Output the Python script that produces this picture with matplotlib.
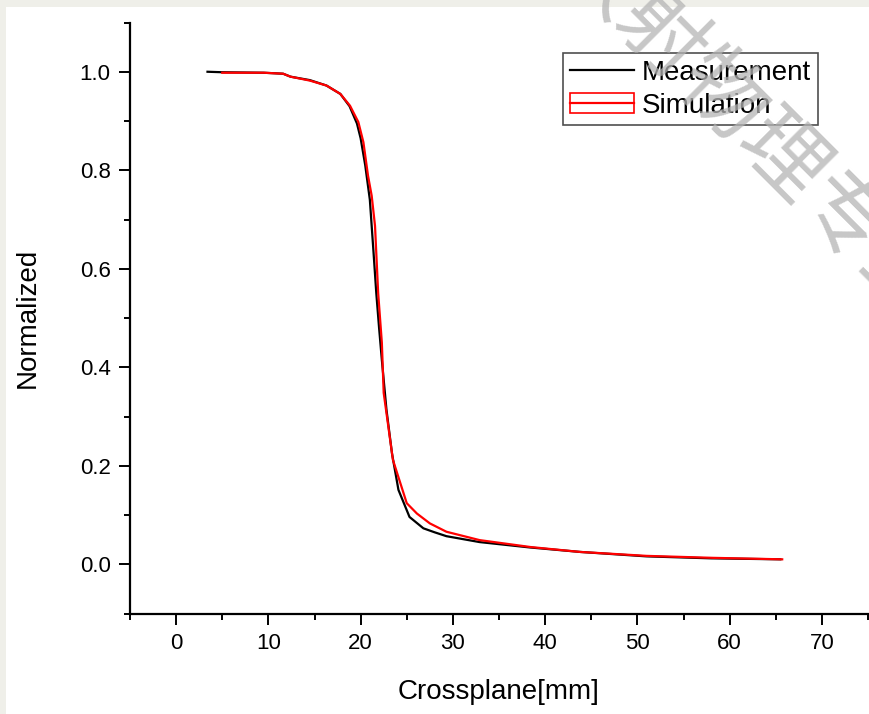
import numpy as np
import matplotlib
matplotlib.use("Agg")
import matplotlib.pyplot as plt
import matplotlib.patches as mpatches
import matplotlib.lines as mlines
from matplotlib.ticker import MultipleLocator

# values
meas_x = [3.4, 5.0, 9.5, 11.6, 12.4, 14.5, 16.3, 17.8, 18.8, 19.6, 20.0, 20.5, 21.0,
          21.4, 21.7, 22.0, 22.3, 22.8, 23.4, 24.1, 25.3, 26.8, 28.0, 29.3, 32.9,
          38.4, 43.8, 51.0, 58.0, 65.5]
meas_y = [1.0, 0.999, 0.998, 0.996, 0.99, 0.983, 0.972, 0.955, 0.93, 0.895, 0.865,
          0.81, 0.74, 0.633, 0.55, 0.48, 0.415, 0.314, 0.225, 0.151, 0.096, 0.073,
          0.065, 0.057, 0.045, 0.034, 0.025, 0.016, 0.012, 0.010]

sim_x = [5.0, 9.5, 11.6, 12.4, 14.5, 16.3, 17.8, 18.85, 19.75, 20.3, 20.8, 21.2,
         21.56, 21.9, 22.3, 22.5, 23.0, 23.5, 24.3, 25.0, 26.1, 27.5, 29.3, 32.9,
         38.4, 43.8, 51.0, 58.2, 65.7]
sim_y = [0.998, 0.998, 0.996, 0.99, 0.982, 0.972, 0.955, 0.931, 0.898, 0.857, 0.789,
         0.748, 0.687, 0.551, 0.45, 0.348, 0.28, 0.212, 0.165, 0.124, 0.103, 0.083,
         0.066, 0.049, 0.035, 0.025, 0.017, 0.013, 0.010]

labels = ["Measurement", "Simulation"]
watermark = "放射物理专业"

plt.rcParams['font.family'] = ['Liberation Sans', 'DejaVu Sans']

W, H = 869, 714
fig = plt.figure(figsize=(W / 100, H / 100), dpi=100)
fig.patch.set_facecolor('#efefe9')
fig.patches.append(mpatches.Rectangle((6 / W, 0), 1, 1 - 7 / H, transform=fig.transFigure,
                                      facecolor='white', edgecolor='none', zorder=-5))

ax = fig.add_axes([130 / W, 1 - 613.5 / H, 738 / W, 591 / H])
ax.set_facecolor('none')
ax.set_zorder(2)

ax.plot(meas_x, meas_y, color='black', lw=1.6, zorder=3)
ax.plot(sim_x, sim_y, color='red', lw=1.6, zorder=4)

ax.set_xlim(-5, 75)
ax.set_ylim(-0.1, 1.1)
ax.xaxis.set_major_locator(MultipleLocator(10))
ax.xaxis.set_minor_locator(MultipleLocator(5))
ax.yaxis.set_major_locator(MultipleLocator(0.2))
ax.yaxis.set_minor_locator(MultipleLocator(0.1))
ax.yaxis.set_major_formatter(matplotlib.ticker.FormatStrFormatter('%.1f'))

for s in ['top', 'right']:
    ax.spines[s].set_visible(False)
for s in ['left', 'bottom']:
    ax.spines[s].set_linewidth(1.6)

ax.tick_params(which='major', direction='out', length=8, width=1.4, labelsize=16, pad=6)
ax.tick_params(which='minor', direction='out', length=4, width=1.4)

ax.set_xlabel("Crossplane[mm]", fontsize=20, labelpad=18)
ax.set_ylabel("Normalized", fontsize=20, labelpad=28)

h1 = mlines.Line2D([], [], color='black', lw=1.6)
h2 = (mpatches.Rectangle((0, 0), 1, 1, facecolor='none', edgecolor='red', lw=1.2),
      mlines.Line2D([], [], color='red', lw=1.6))
leg = ax.legend([h1, h2], labels, loc='upper left',
                bbox_to_anchor=(563 / W, 1 - 53 / H), bbox_transform=fig.transFigure,
                fontsize=20, frameon=True, fancybox=False, borderaxespad=0,
                borderpad=0.24, labelspacing=0.25, handlelength=2.3, handletextpad=0.3)
leg.get_frame().set_edgecolor('#222222')
leg.get_frame().set_linewidth(1.2)

# faint watermark across the upper right corner
fig.text(568 / W, 1 + 53 / H, watermark, fontsize=62, color='#b4b4b4', alpha=0.75,
         family=['Noto Sans CJK SC', 'DejaVu Sans'], rotation=-45,
         rotation_mode='anchor', ha='left', va='center', zorder=10)

plt.savefig('out.png', dpi=100)
